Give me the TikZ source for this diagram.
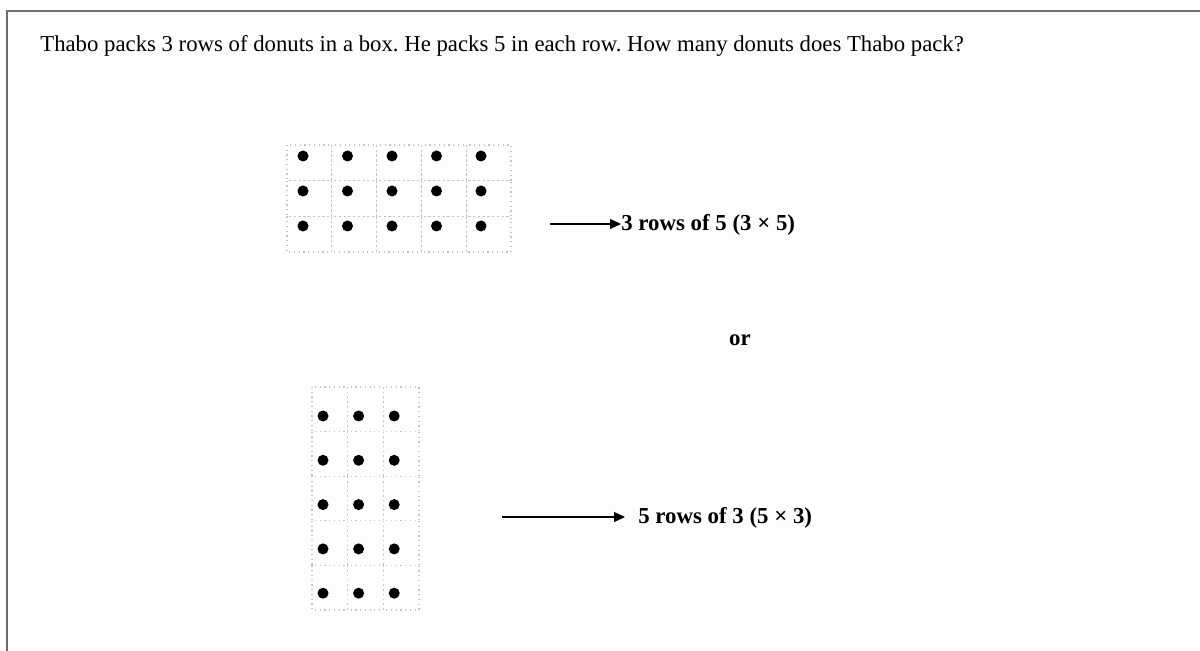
\documentclass[tikz,border=0pt]{standalone}
\usepackage{fontspec}
\setmainfont{Liberation Serif}
\usetikzlibrary{arrows.meta, positioning}
\definecolor{frameg}{RGB}{110,110,110}
\definecolor{gridg}{RGB}{195,195,195}
\definecolor{pageg}{RGB}{253,253,253}
\tikzset{
  cell/.style={draw=gridg, dotted, line width=0.7pt},
  donut/.style={circle, fill=black, inner sep=0pt, minimum size=0.22cm},
  lbl/.style={font=\bfseries\fontsize{13}{15}\selectfont, inner sep=0pt, anchor=west},
  arrow/.style={-{Triangle[length=0.22cm, width=0.2cm]}, line width=0.6pt}
}
\frenchspacing
\begin{document}
\begin{tikzpicture}[x=0.02cm, y=-0.02cm]
  \useasboundingbox (0,0) rectangle (1200,651);
  \fill[pageg] (7,11) rectangle (1200,651);
  \draw[frameg, line width=0.05cm] (7,651) -- (7,11) -- (1200,11);

  % question
  \node[anchor=west, inner sep=0pt, font=\fontsize{12.95}{15}\selectfont] (question) at (40,46)
    {Thabo packs 3 rows of donuts in a box. He packs 5 in each row. How many donuts does Thabo pack?};

  % 3 rows of 5
  \foreach \r in {0,1,2}
    \foreach \c in {0,...,4} {
      \draw[cell] (287+44.8*\c,145+35.7*\r) rectangle ++(44.8,35.7);
      \node[donut] (a-\r-\c) at (303+44.5*\c,156+35*\r) {};
    }
  \node[lbl] (rowsA) at (621,225) {3 rows of 5 (3 × 5)};
  \coordinate (startA) at (550,224);
  \draw[arrow] (startA) -- (rowsA.west |- startA);

  \node[font=\bfseries\fontsize{13}{15}\selectfont] (orword) at (740,340) {or};

  % 5 rows of 3
  \foreach \r in {0,...,4}
    \foreach \c in {0,1,2} {
      \draw[cell] (312+35.7*\c,387+44.6*\r) rectangle ++(35.7,44.6);
      \node[donut] (b-\r-\c) at (323+35.6*\c,416+44.3*\r) {};
    }
  \node[lbl] (rowsB) at (638,518) {5 rows of 3 (5 × 3)};
  \coordinate (startB) at (502,517);
  \draw[arrow, shorten >=0.26cm] (startB) -- (rowsB.west |- startB);
\end{tikzpicture}
\end{document}
